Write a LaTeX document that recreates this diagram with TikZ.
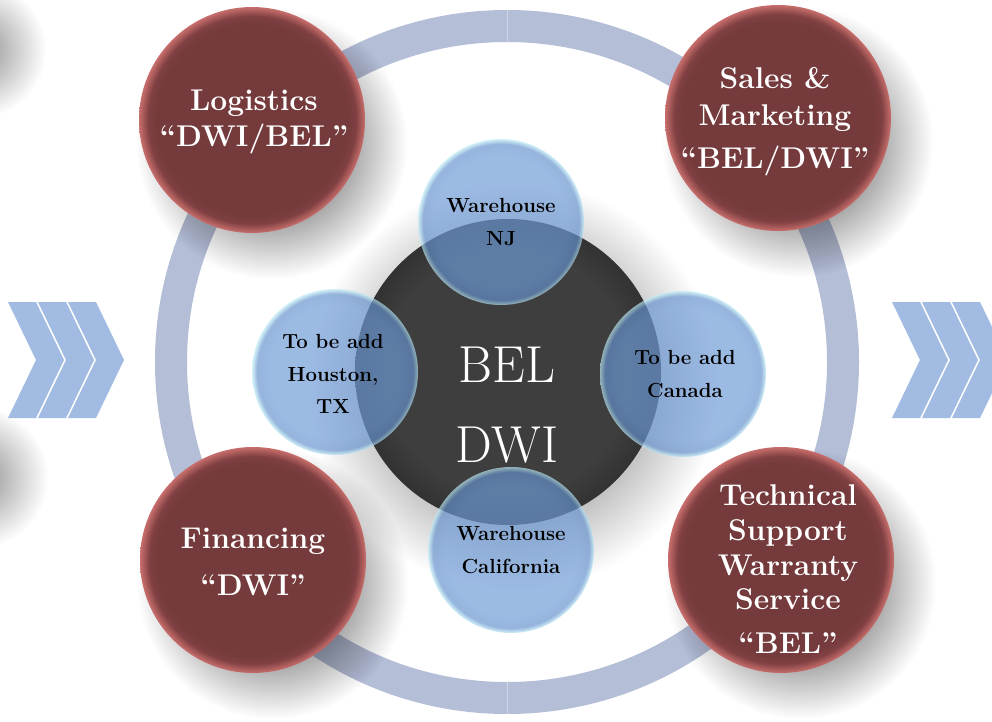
\documentclass[tikz,border=0pt]{standalone}
\usetikzlibrary{calc}
\definecolor{ringc}{RGB}{180,190,215}
\definecolor{chev}{RGB}{161,187,226}
\definecolor{redin}{RGB}{116,58,60}
\definecolor{redmid}{RGB}{128,64,66}
\definecolor{redrim}{RGB}{200,110,108}
\definecolor{darkin}{RGB}{62,62,62}
\definecolor{darkout}{RGB}{50,50,50}
\definecolor{bluein}{RGB}{110,155,215}
\definecolor{bluemid}{RGB}{100,145,205}
\definecolor{bluerim}{RGB}{190,235,245}
\pgfdeclareradialshading{redball}{\pgfpointorigin}{color(0bp)=(redin); color(21bp)=(redin); color(23bp)=(redmid); color(25bp)=(redrim); color(50bp)=(redrim)}
\pgfdeclareradialshading{darkball}{\pgfpointorigin}{color(0bp)=(darkin); color(20bp)=(darkin); color(25bp)=(darkout); color(50bp)=(darkout)}
\pgfdeclareradialshading{blueball}{\pgfpointorigin}{color(0bp)=(bluein); color(20bp)=(bluein); color(23.5bp)=(bluemid); color(25bp)=(bluerim); color(50bp)=(bluerim)}
\newcommand{\softdisc}[5]{% x, y, outer radius, inner radius, opacity per step
  \foreach \k in {0,...,29}{\fill[black,opacity=#5] (#1,#2) circle ({#3-\k*(#3-#4)/29});}}
\tikzset{
  redtxt/.style={text=white, align=center, inner sep=0pt,
    font=\bfseries\fontsize{22.5}{27.5}\selectfont},
  bluetxt/.style={text=black, align=center, inner sep=0pt,
    font=\bfseries\fontsize{15.3}{24.5}\selectfont},
  centertxt/.style={text=white, align=center, inner sep=0pt,
    font=\fontsize{39}{60}\selectfont},
  chevron/.style={fill=chev, draw=none},
  ringline/.style={draw=ringc, line width=24pt},
  redcircle/.style={shading=redball},
  bluecircle/.style={shading=blueball, opacity=0.68},
  darkcircle/.style={shading=darkball},
}
\begin{document}
\begin{tikzpicture}[x=0.75pt,y=-0.75pt]
\useasboundingbox (0,0) rectangle (992,721);
\fill[white] (0,0) rectangle (992,721);
% blurred blobs at left edge
\begin{scope}
\clip (0,0) rectangle (992,721);
\softdisc{-22}{50}{68}{15}{0.013}
\softdisc{-22}{478}{70}{15}{0.013}
\end{scope}
% chevrons
\foreach \x in {8,38,68}{
  \fill[chevron] (\x,302) -- (\x+28,302) -- (\x+56,360) -- (\x+28,418) -- (\x,418) -- (\x+28,360) -- cycle;}
\begin{scope}
\clip (0,0) rectangle (992,721);
\foreach \x in {892,922,952}{
  \fill[chevron] (\x,302) -- (\x+28,302) -- (\x+56,360) -- (\x+28,418) -- (\x,418) -- (\x+28,360) -- cycle;}
\end{scope}
% named centres
\coordinate (ringc) at (507,362);
\coordinate (logc) at (252,120);
\coordinate (salc) at (778,118);
\coordinate (finc) at (253,560);
\coordinate (tecc) at (781,560);
\coordinate (darkc) at (508,372);
\coordinate (njc) at (501,222);
\coordinate (houc) at (335,372);
\coordinate (canc) at (683,374);
\coordinate (calc) at (511,550);
% ring
\begin{scope}
\clip (0,0) rectangle (992,721);
\draw[ringline] (ringc) circle (336);
\draw[white,opacity=0.35,line width=0.5pt] (507,10) -- (507,43);
\draw[white,opacity=0.35,line width=0.5pt] (507,680) -- (507,721);
% halo of the central disc
\softdisc{514}{386}{205}{140}{0.009}
% shadows of red discs
\softdisc{272}{144}{135}{80}{0.011}
\softdisc{798}{142}{135}{80}{0.011}
\softdisc{273}{584}{135}{80}{0.011}
\softdisc{801}{584}{135}{80}{0.011}
\end{scope}
% red discs
\shade[redcircle] (logc) circle (113);
\shade[redcircle] (salc) circle (113);
\shade[redcircle] (finc) circle (113);
\shade[redcircle] (tecc) circle (113);
% dark disc
\shade[darkcircle] (darkc) circle (153);
% blue discs
\shade[bluecircle] (njc) circle (83);
\shade[bluecircle] (houc) circle (83);
\shade[bluecircle] (canc) circle (83);
\shade[bluecircle] (calc) circle (83);
% texts
\node[redtxt] (logi) at (254,122) {Logistics\\``DWI/BEL''};
\node[redtxt] (sales) at (775,122) {Sales \&\\Marketing\\[5pt]``BEL/DWI''};
\node[redtxt] (fin) at (253,562) {Financing\\[8pt]``DWI''};
\node[redtxt] (tech) at (788,569) {Technical\\[-1.5pt]Support\\[-1.5pt]Warranty\\[-1.5pt]Service\\[5pt]``BEL''};
\node[centertxt] (bel) at (507,405) {BEL\\DWI};
\node[bluetxt] (nj) at (501,222) {Warehouse\\NJ};
\node[bluetxt] (hou) at (333,374) {To be add\\Houston,\\TX};
\node[bluetxt] (can) at (685,374) {To be add\\Canada};
\node[bluetxt] (cal) at (511,550) {Warehouse\\California};
\end{tikzpicture}
\end{document}
